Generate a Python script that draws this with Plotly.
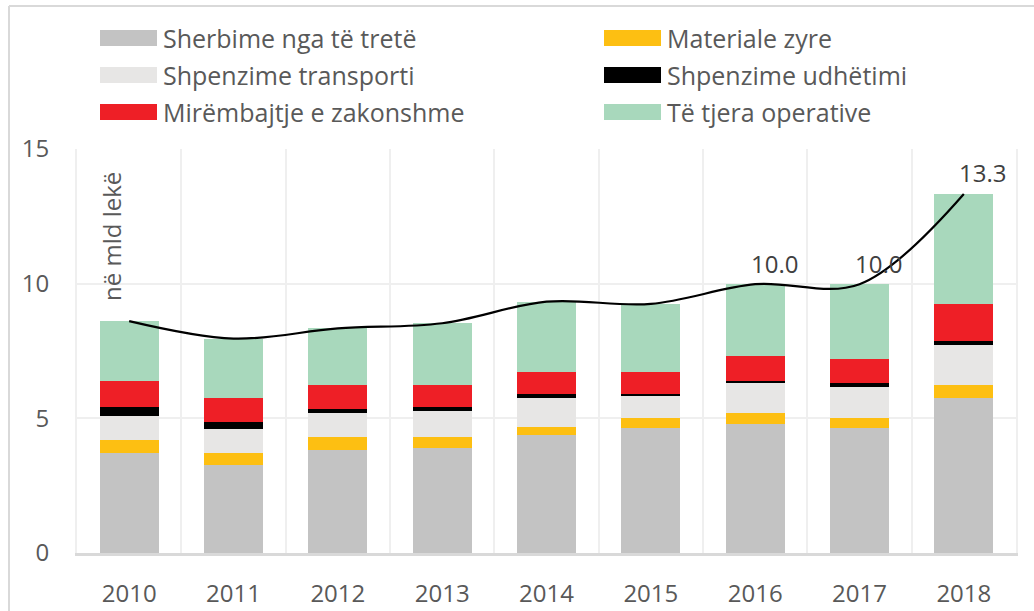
import plotly.graph_objects as go

# Operating expenditure by category, billions of lekë
years = ["2010", "2011", "2012", "2013", "2014", "2015", "2016", "2017", "2018"]
sherbime = [3.72, 3.26, 3.81, 3.90, 4.37, 4.63, 4.80, 4.63, 5.77]
materiale = [0.48, 0.45, 0.49, 0.40, 0.32, 0.38, 0.39, 0.38, 0.47]
transporti = [0.90, 0.91, 0.89, 0.97, 1.08, 0.83, 1.13, 1.17, 1.47]
udhetimi = [0.32, 0.24, 0.16, 0.16, 0.15, 0.06, 0.07, 0.14, 0.16]
mirembajtje = [0.98, 0.90, 0.89, 0.81, 0.80, 0.82, 0.91, 0.90, 1.38]
te_tjera = [2.21, 2.20, 2.10, 2.29, 2.61, 2.53, 2.68, 2.76, 4.08]

series_names = [
    "Sherbime nga të tretë",
    "Materiale zyre",
    "Shpenzime transporti",
    "Shpenzime udhëtimi",
    "Mirëmbajtje e zakonshme",
    "Të tjera operative",
]
series_values = [sherbime, materiale, transporti, udhetimi, mirembajtje, te_tjera]
series_colors = ["#c3c3c3", "#fdbf12", "#e7e6e5", "#000000", "#ee1f26", "#a8d8bc"]
labelled_years = ["2016", "2017", "2018"]
unit_label = "në mld lekë"

FONT = "Open Sans"
TEXT = "#595959"

x = list(range(len(years)))
totals = [round(sum(v[i] for v in series_values), 2) for i in range(len(years))]

fig = go.Figure()
for name, vals, col in zip(series_names, series_values, series_colors):
    fig.add_trace(go.Bar(
        x=x, y=vals, name=name, marker_color=col, marker_line_width=0,
        width=0.565, showlegend=False,
    ))

fig.add_trace(go.Scatter(
    x=x, y=totals, mode="lines", line=dict(color="black", width=2.2, shape="spline", smoothing=1),
    showlegend=False, hoverinfo="skip",
))

annotations = []
for i, yr in enumerate(years):
    if yr in labelled_years:
        annotations.append(dict(
            x=i, y=totals[i], xref="x", yref="y", text=f"{totals[i]:.1f}",
            showarrow=False, xshift=19, yshift=21,
            font=dict(family=FONT, size=24, color="#404040"),
        ))

annotations.append(dict(
    x=-0.17, y=11.75, xref="x", yref="y", text=unit_label, textangle=-90,
    showarrow=False, font=dict(family=FONT, size=24, color=TEXT),
))

# Two-column legend drawn above the plot area
plot_l, plot_r, plot_t, plot_b = 77, 1016, 149, 553
pw, ph = plot_r - plot_l, plot_b - plot_t

def px_x(px):
    return (px - plot_l) / pw

def px_y(py):
    return (plot_b - py) / ph

shapes = []
col_x = [100, 604]
row_y = [38, 75, 112]
for k, (name, col) in enumerate(zip(series_names, series_colors)):
    cx = col_x[k % 2]
    cy = row_y[k // 2]
    shapes.append(dict(
        type="rect", xref="paper", yref="paper",
        x0=px_x(cx), x1=px_x(cx + 57), y0=px_y(cy + 8), y1=px_y(cy - 8),
        fillcolor=col, line=dict(width=0),
    ))
    annotations.append(dict(
        x=px_x(cx + 61), y=px_y(cy), xref="paper", yref="paper", text=name,
        xanchor="left", yanchor="middle", showarrow=False,
        font=dict(family=FONT, size=25, color=TEXT),
    ))

# Chart frame (top and left edges)
shapes.append(dict(type="line", xref="paper", yref="paper",
                   x0=px_x(9), x1=px_x(1040), y0=px_y(6), y1=px_y(6),
                   line=dict(color="#d9d9d9", width=2)))
shapes.append(dict(type="line", xref="paper", yref="paper",
                   x0=px_x(9), x1=px_x(9), y0=px_y(6), y1=px_y(620),
                   line=dict(color="#d9d9d9", width=2)))

fig.update_layout(
    barmode="stack",
    width=1034, height=611,
    margin=dict(l=plot_l, r=1034 - plot_r, t=plot_t, b=611 - plot_b),
    paper_bgcolor="white", plot_bgcolor="white",
    font=dict(family=FONT, size=24, color=TEXT),
    annotations=annotations,
    shapes=shapes,
    xaxis=dict(
        range=[-0.5, len(years) - 0.5], tickmode="array", tickvals=x, ticktext=years,
        showgrid=False, zeroline=False, automargin=False,
        showline=True, linecolor="#d9d9d9", linewidth=3,
        ticks="outside", ticklen=17, tickcolor="rgba(0,0,0,0)",
        minor=dict(tickmode="linear", tick0=-0.5, dtick=1, showgrid=True,
                   gridcolor="#efefef", gridwidth=2, ticks=""),
        tickfont=dict(family=FONT, size=24, color=TEXT),
    ),
    yaxis=dict(
        range=[0, 15], tickvals=[0, 5, 10, 15], automargin=False,
        showgrid=True, gridcolor="#efefef", gridwidth=2, zeroline=False,
        showline=True, linecolor="#efefef", linewidth=2, mirror=True,
        ticks="outside", ticklen=21, tickcolor="rgba(0,0,0,0)",
        tickfont=dict(family=FONT, size=24, color=TEXT),
    ),
)

fig.write_html("out.html")
